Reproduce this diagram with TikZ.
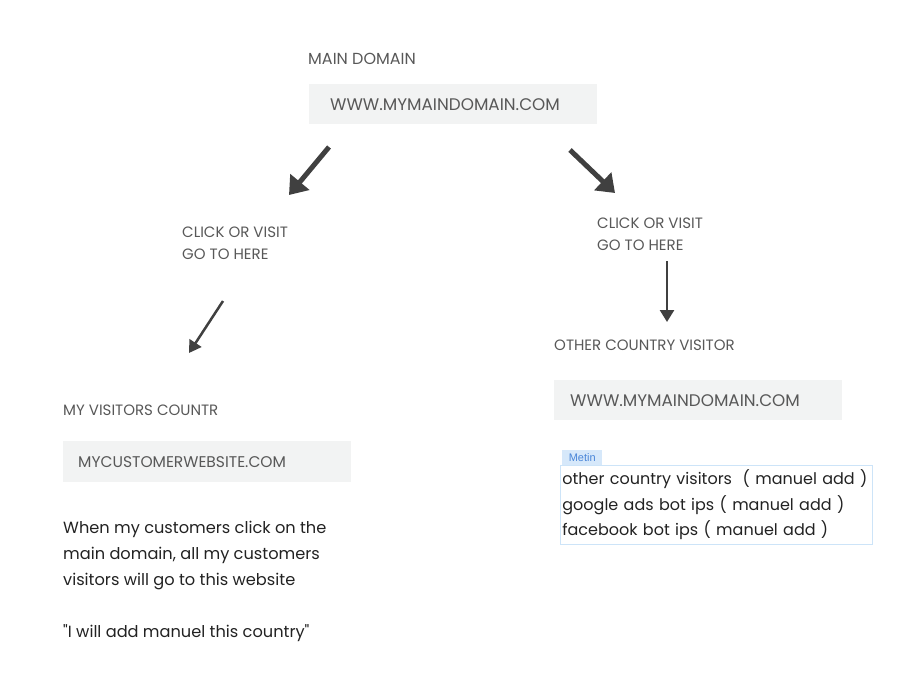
\documentclass[tikz,border=0pt]{standalone}
\usepackage{fontspec}
\setmainfont{Poppins}
\newfontfamily\uifont{Liberation Sans}
\usetikzlibrary{arrows.meta,positioning}
\definecolor{labelgray}{RGB}{88,88,88}
\definecolor{inkgray}{RGB}{34,34,34}
\definecolor{boxgray}{RGB}{242,243,243}
\definecolor{arrowgray}{RGB}{64,64,64}
\definecolor{tagblue}{RGB}{214,232,250}
\definecolor{tagtext}{RGB}{74,134,216}
\definecolor{frameblue}{RGB}{205,228,248}

\begin{document}
\begin{tikzpicture}[x=1pt, y=-1pt,
      cap label/.style={anchor=north west, inner sep=0pt, text=labelgray, align=left,
        font=\fontsize{15}{22}\selectfont},
      domain box/.style={anchor=north west, fill=boxgray, inner ysep=0pt, minimum height=40pt,
        align=left, text=labelgray, font=\fontsize{15.5}{18}\selectfont},
      body text/.style={anchor=north west, inner sep=0pt, text=inkgray, align=left,
        font=\fontsize{16.2}{26}\selectfont},
      big arrow/.style={draw=arrowgray, line width=5pt, -{Triangle[length=17pt,width=24pt]}},
      small arrow/.style={draw=arrowgray, line width=2.5pt, -{Triangle[length=12pt,width=14pt]}}]

      \useasboundingbox (0,0) rectangle (909,699);

      % top
      \node[cap label, font=\fontsize{16}{22}\selectfont] (main label) at (308,53) {MAIN DOMAIN};
      \node[domain box, inner xsep=21pt, text width=246pt, font=\fontsize{16.8}{18}\selectfont] (main box) at (309,84) {WWW.MYMAINDOMAIN.COM};

      % left branch
      \node[cap label] (left click) at (182,227) {CLICK OR VISIT\\GO TO HERE};
      \node[cap label] (my label) at (63,405) {MY VISITORS COUNTR};
      \node[domain box, inner xsep=15pt, text width=258pt, minimum height=41pt] (my box) at (63,441) {MYCUSTOMERWEBSITE.COM};
      \node[body text] (note) at (63,521) {When my customers click on the\\main domain, all my customers\\visitors will go to this website\\[26pt]\textquotedbl I will add manuel this country\textquotedbl};

      % right branch
      \node[cap label] (right click) at (597,218) {CLICK OR VISIT\\GO TO HERE};
      \node[cap label] (other label) at (554,340) {OTHER COUNTRY VISITOR};
      \node[domain box, inner xsep=16pt, text width=256pt, font=\fontsize{16.8}{18}\selectfont] (other box) at (554,380) {WWW.MYMAINDOMAIN.COM};
      \node[body text, font=\fontsize{16}{25.5}\selectfont, draw=frameblue, line width=0.8pt,
        inner xsep=2pt, text width=308pt, minimum height=79pt] (ip list) at (560,465)
        {other country visitors\ \ ( manuel add )\\google ads bot ips ( manuel add )\\facebook bot ips ( manuel add )};
      \node[anchor=south west, fill=tagblue, text=tagtext, inner sep=0pt, minimum width=40pt,
        minimum height=15pt, font=\uifont\fontsize{11}{12}\selectfont] (tag) at ([xshift=2pt]ip list.north west) {Metin};

      % arrows
      \coordinate (a1) at (329,147); \coordinate (b1) at (289,195);
      \coordinate (a2) at (570,150); \coordinate (b2) at (615,193);
      \coordinate (a3) at (223,301); \coordinate (b3) at (189,353);
      \coordinate (a4) at (667,261); \coordinate (b4) at (667,322);

      \path (a1) edge[big arrow] (b1)
            (a2) edge[big arrow] (b2)
            (a3) edge[small arrow] (b3)
            (a4) edge[small arrow] (b4);

\end{tikzpicture}
\end{document}
